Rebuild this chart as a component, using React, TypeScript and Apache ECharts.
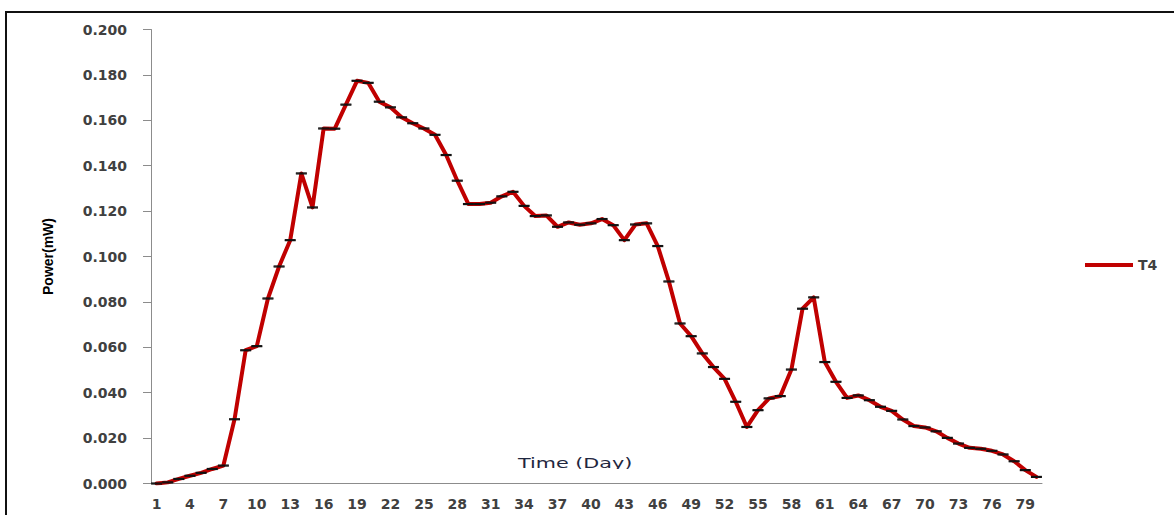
import React, { useEffect, useRef } from "react";
import * as echarts from "echarts";

// Daily power output of treatment T4 (mW), days 1..80
const days: string[] = Array.from({ length: 80 }, (_, i) => String(i + 1));

const powerT4: number[] = [
  0.0, 0.0005, 0.002, 0.0034, 0.0047, 0.0064, 0.0079, 0.0283, 0.0587, 0.0605,
  0.0815, 0.0956, 0.1072, 0.1366, 0.1216, 0.1564, 0.1563, 0.1669, 0.1774, 0.1765,
  0.1682, 0.1657, 0.1613, 0.1587, 0.1564, 0.1536, 0.1447, 0.1334, 0.1231, 0.1231,
  0.1237, 0.1265, 0.1285, 0.1223, 0.1178, 0.1181, 0.1131, 0.115, 0.114, 0.1146,
  0.1165, 0.1138, 0.1072, 0.1141, 0.1146, 0.1046, 0.089, 0.0705, 0.0649, 0.0573,
  0.0513, 0.0461, 0.036, 0.0249, 0.0323, 0.0375, 0.0385, 0.0502, 0.077, 0.082,
  0.0535, 0.0448, 0.0377, 0.0388, 0.0367, 0.0338, 0.032, 0.0282, 0.0253, 0.0247,
  0.023, 0.0201, 0.0176, 0.0157, 0.0153, 0.0144, 0.0128, 0.0098, 0.0059, 0.0029,
];

// Standard error shown by the error bars (very small for every day)
const stdError = 0.0002;

const yTicks = { min: 0, max: 0.2, interval: 0.02 };

const App: React.FC = () => {
  const ref = useRef<HTMLDivElement>(null);

  useEffect(() => {
    if (!ref.current) return;
    const chart = echarts.init(ref.current, null, { renderer: "svg" });

    const labelFont = {
      fontFamily: "DejaVu Sans",
      fontWeight: "bold" as const,
      fontSize: 14,
      color: "#404040",
    };

    chart.setOption({
      animation: false,
      backgroundColor: "#ffffff",
      grid: { left: 151, top: 29.5, width: 891, height: 454 },
      legend: {
        data: ["T4"],
        left: 1085,
        top: 258,
        padding: 0,
        icon: "rect",
        itemWidth: 48,
        itemHeight: 4,
        itemGap: 5,
        textStyle: { ...labelFont },
      },
      xAxis: {
        type: "category",
        data: days,
        boundaryGap: true,
        axisLine: { lineStyle: { color: "#8c8c8c", width: 1 } },
        axisTick: { interval: 0, length: 5, lineStyle: { color: "#8c8c8c" } },
        axisLabel: { interval: 2, margin: 13, ...labelFont },
        splitLine: { show: false },
      },
      yAxis: {
        type: "value",
        min: yTicks.min,
        max: yTicks.max,
        interval: yTicks.interval,
        name: "Power(mW)",
        nameLocation: "middle",
        nameRotate: 90,
        nameGap: 96,
        nameTextStyle: {
          fontFamily: "Liberation Sans",
          fontWeight: "bold",
          fontSize: 14,
          color: "#000000",
        },
        axisLine: { show: true, lineStyle: { color: "#8c8c8c", width: 1 } },
        axisTick: { show: true, length: 8, lineStyle: { color: "#8c8c8c" } },
        axisLabel: {
          margin: 24,
          formatter: (v: number) => v.toFixed(3),
          ...labelFont,
        },
        splitLine: { show: false },
      },
      series: [
        {
          name: "T4",
          type: "line",
          data: powerT4,
          symbol: "none",
          z: 2,
          itemStyle: { color: "#c00000" },
          lineStyle: { color: "#c00000", width: 4, cap: "round", join: "round" },
        },
        {
          name: "error",
          type: "custom",
          z: 3,
          data: powerT4.map((v, i) => [i, v, stdError]),
          encode: { x: 0, y: 1 },
          renderItem: (_params: any, api: any) => {
            const i = api.value(0);
            const v = api.value(1);
            const e = api.value(2);
            const hi = api.coord([i, v + e]);
            const lo = api.coord([i, v - e]);
            const hw = 5.5;
            const style = { stroke: "#111111", lineWidth: 1.3 };
            return {
              type: "group",
              children: [
                { type: "line", shape: { x1: hi[0] - hw, y1: hi[1], x2: hi[0] + hw, y2: hi[1] }, style },
                { type: "line", shape: { x1: lo[0] - hw, y1: lo[1], x2: lo[0] + hw, y2: lo[1] }, style },
                { type: "line", shape: { x1: hi[0], y1: hi[1], x2: lo[0], y2: lo[1] }, style },
              ],
            };
          },
        },
      ],
      graphic: [
        {
          type: "rect",
          z: 0,
          shape: { x: 6, y: 12, width: 1200, height: 600 },
          style: { fill: "none", stroke: "#111111", lineWidth: 2 },
        },
        {
          type: "text",
          z: 10,
          x: 518,
          y: 463.5,
          scaleX: 1.48,
          style: {
            text: "Time (Day)",
            font: "14px 'DejaVu Sans'",
            fill: "#1f2740",
            align: "left",
            verticalAlign: "middle",
          },
        },
        {
          type: "rect",
          z: 11,
          shape: { x: 512, y: 469, width: 130, height: 12 },
          style: { fill: "#ffffff" },
        },
      ],
    });

    return () => chart.dispose();
  }, []);

  return (
    <div
      ref={ref}
      style={{ position: "absolute", left: 0, top: 0, width: 1174, height: 515 }}
    />
  );
};

export default App;
